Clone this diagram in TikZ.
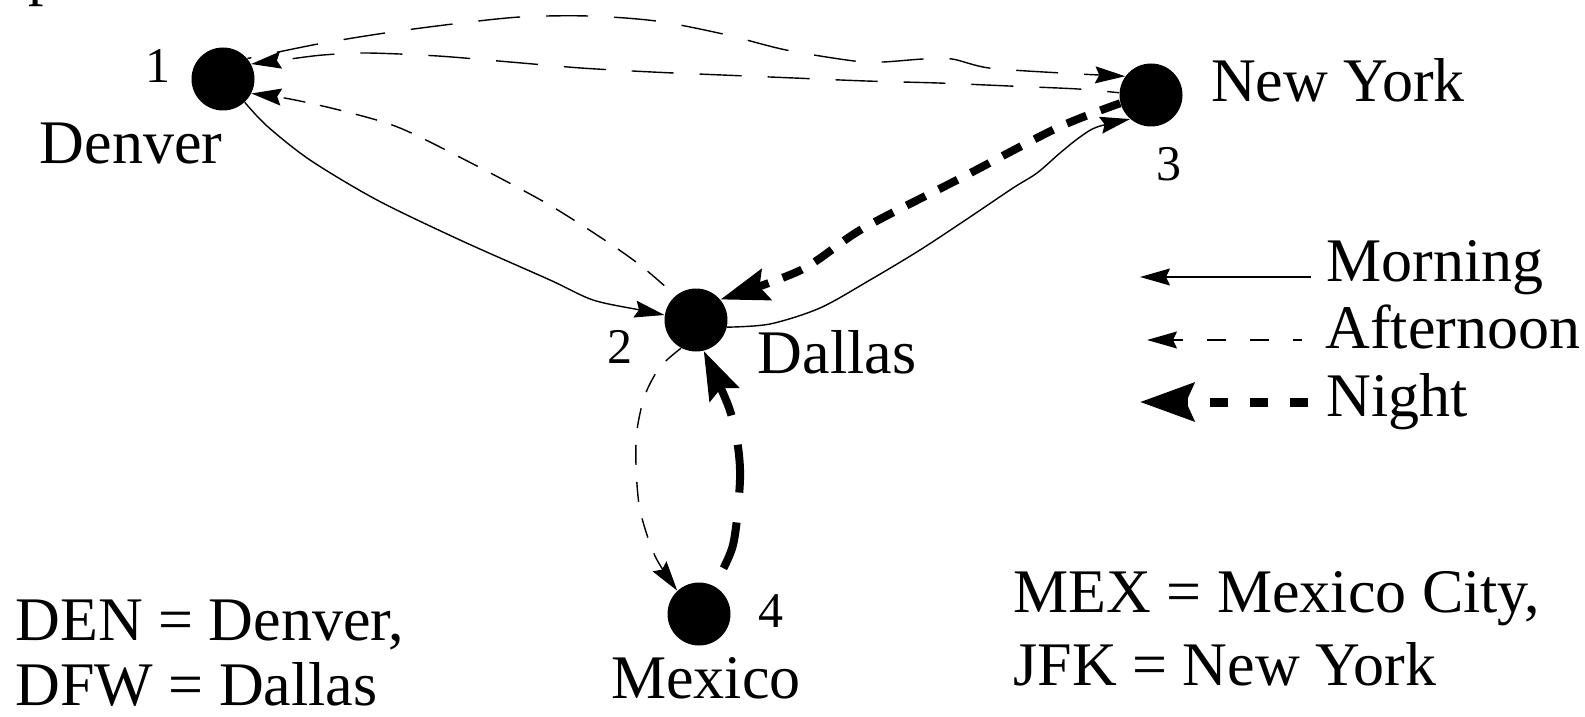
\documentclass[tikz,border=0pt]{standalone}
\usepackage{fontspec}
\setmainfont{Liberation Serif}
\usetikzlibrary{arrows.meta}
\begin{document}
\begin{tikzpicture}[x=0.5pt,y=-0.5pt,
  city/.style={circle,fill=black,inner sep=0pt,minimum size=31.5pt},
  lbl/.style={inner sep=0pt,anchor=base,font=\fontsize{31}{36}\selectfont},
  num/.style={inner sep=0pt,anchor=base,font=\fontsize{25}{30}\selectfont},
  thinarrow/.style={line width=0.7pt,-{Stealth[length=15pt,width=8.5pt,inset=2pt]}},
  morn/.style={thinarrow},
  aftlong/.style={thinarrow,dash pattern=on 21pt off 13pt},
  aftshort/.style={thinarrow,dash pattern=on 11pt off 7.5pt},
  night/.style={line width=4pt,-{Stealth[length=24pt,width=16pt,inset=3.5pt]},dash pattern=on 10.5pt off 7.5pt},
]
\useasboundingbox (0,0) rectangle (1585,717);

% cities
\node[city] (den) at (223,79) {};
\node[city] (ny)  at (1151,95) {};
\node[city] (dal) at (696,320) {};
\node[city] (mex) at (699,614) {};

% labels
\node[lbl,anchor=base west] (frag) at (28,-6.5) {p};
\node[lbl] (denL) at (131,163) {Denver};
\node[num] (n1) at (158,83) {1};
\node[lbl] (nyL) at (1338,102) {New York};
\node[num] (n3) at (1169,180) {3};
\node[num] (n2) at (620,363) {2};
\node[lbl] (dalL) at (837,373) {Dallas};
\node[num] (n4) at (771,627) {4};
\node[lbl] (mexL) at (706,698) {Mexico};

% legend
\node[lbl,anchor=base west] (legM) at (1326,281) {Morning};
\node[lbl,anchor=base west] (legA) at (1325,348) {Afternoon};
\node[lbl,anchor=base west] (legN) at (1326,416) {Night};
\coordinate (m1) at (1311,277); \coordinate (m2) at (1140,277);
\coordinate (a1) at (1302,340); \coordinate (a2) at (1147,340);
\coordinate (g1) at (1308,402); \coordinate (g2) at (1140,402);
\draw[morn] (m1) -- (m2);
\draw[thinarrow,dash pattern=on 9.5pt off 12pt,dash phase=5pt] (a1) -- (a2);
\draw[night,line width=4.5pt,dash pattern=on 9pt off 11pt,-{Stealth[length=27pt,width=19pt,inset=4pt]}] (g1) -- (g2);

% key
\node[lbl,anchor=base west] (k1) at (15,640) {DEN = Denver,};
\node[lbl,anchor=base west] (k2) at (15,705) {DFW = Dallas};
\node[lbl,anchor=base west] (k3) at (1013,612) {MEX = Mexico City,};
\node[lbl,anchor=base west] (k4) at (1013,685) {JFK = New York};

% Denver -> New York (afternoon, wavy)
\draw[aftlong,dash phase=19pt] plot[smooth] coordinates {(den.40) (318,44) (385,33) (453,24) (520,17) (588,16) (656,21) (723,34) (786,50) (854,61) (883,62) (923,59) (952,59) (989,68) (1061,73) (ny.144)};
% New York -> Denver (afternoon)
\draw[aftlong,dash phase=15pt] plot[smooth] coordinates {(ny.176) (1078,89) (1009,86) (938,83) (866,81) (794,78) (722,75) (652,72) (581,68) (510,62) (438,56) (367,53) (323,55) (290,59) (den.28)};
% Dallas -> Denver (afternoon)
\draw[aftshort,dash phase=11pt] plot[smooth] coordinates {(dal.130) (640,265) (600,237) (546,203) (475,165) (400,128) (343,111) (290,99) (den.333)};
% Denver -> Dallas (morning)
\draw[morn] plot[smooth] coordinates {(den.313) (267,126) (310,160) (377,200) (460,240) (550,280) (593,300) (640,310) (dal.171)};
% Dallas -> New York (morning)
\draw[morn] plot[smooth] coordinates {(dal.347) (770,324) (820,308) (870,280) (920,250) (970,217) (1013,188) (1037,173) (1060,153) (1080,137) (1097,127) (ny.229)};
% New York -> Dallas (night)
\draw[night] plot[smooth] coordinates {(ny.195) (1057,128) (959,179) (862,229) (801,270) (dal.40)};
% Dallas -> Mexico (afternoon)
\draw[aftshort,dash pattern=on 10pt off 8.5pt] plot[smooth] coordinates {(dal.242) (660,367) (645,395) (637,430) (636,465) (640,510) (655,556) (mex.133)};
% Mexico -> Dallas (night)
\draw[night,dash pattern=on 24pt off 15pt,dash phase=29pt] plot[smooth] coordinates {(mex.62) (733,545) (740,480) (737,440) (728,405) (dal.284)};
\end{tikzpicture}
\end{document}
